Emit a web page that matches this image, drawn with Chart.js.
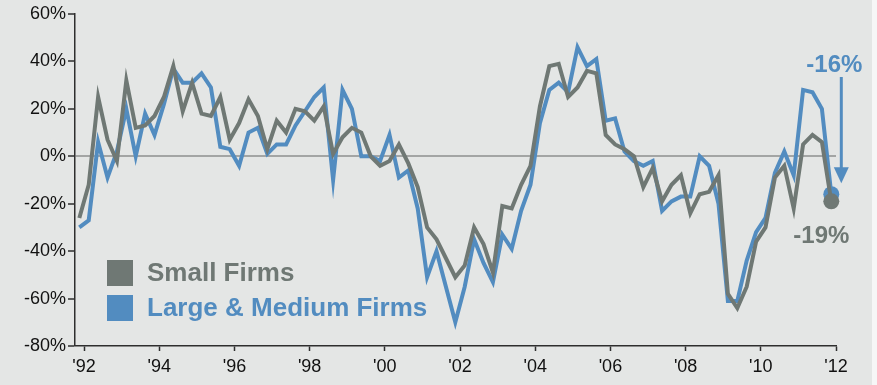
<!DOCTYPE html>
<html>
<head>
<meta charset="utf-8">
<script src="https://cdn.jsdelivr.net/npm/chart.js@4.4.1/dist/chart.umd.min.js"></script>
<style>
  html, body { margin: 0; padding: 0; background: #f6f6f6; }
  #wrap { position: relative; width: 877px; height: 385px; }
  #bg { position: absolute; left: 0; top: 0; width: 872px; height: 385px; background: #e4e6e5; }
  canvas { position: absolute; left: 0; top: 0; }
</style>
</head>
<body>
<div id="wrap">
  <div id="bg"></div>
  <canvas id="chart" width="877" height="385"></canvas>
</div>
<script>
// Quarterly readings, Q4 1991 through Q4 2011 (plotted at mid-quarter, in decimal years)
const quarters = Array.from({ length: 81 }, (_, i) => 1991.875 + i * 0.25);

// Net percent of firms reporting, by firm size
const smallFirms = [
  -26, -12, 25, 7, -2, 32, 12, 13, 17, 25, 38, 19, 31, 18, 17, 25,
  7, 14, 24, 17, 3, 15, 10, 20, 19, 15, 21, 1, 8, 12, 10, 0,
  -4, -2, 5, -3, -13, -30, -35, -43, -51, -46, -30, -37, -49, -21, -22, -12,
  -4, 21, 38, 39, 25, 29, 36, 35, 9, 5, 3, 0, -13, -5, -19, -12,
  -8, -24, -16, -15, -8, -58, -64, -55, -36, -30, -9, -4, -22, 5, 9, 6,
  -19
];
const largeMediumFirms = [
  -30, -27, 6, -9, 2, 20, 0, 18, 9, 22, 37, 31, 31, 35, 29, 4,
  3, -4, 10, 12, 1, 5, 5, 13, 19, 25, 29, -10, 28, 20, 0, 0,
  -2, 9, -9, -6, -22, -51, -40, -55, -70, -55, -35, -45, -53, -33, -39, -23,
  -12, 14, 28, 31, 27, 46, 38, 41, 15, 16, 2, -2, -4, -2, -23, -19,
  -17, -17, 0, -4, -20, -61, -61, -44, -32, -26, -7, 2, -8, 28, 27, 20,
  -16
];

// Axis ticks
const yTicks = [-80, -60, -40, -20, 0, 20, 40, 60];
const xTickYears = [1992, 1994, 1996, 1998, 2000, 2002, 2004, 2006, 2008, 2010, 2012];

const GRAY = '#6f7874';
const BLUE = '#528cc0';
const AXIS = '#2e2e2e';
const FONT = '"Liberation Sans", Arial, Helvetica, sans-serif';
const LAST = quarters.length - 1;

Chart.defaults.font.family = FONT;

const toPoints = values => quarters.map((q, i) => ({ x: q, y: values[i] }));

// Legend block and the call-outs for the latest readings
const callouts = {
  id: 'callouts',
  afterDatasetsDraw(chart) {
    const { ctx } = chart;
    const small = chart.getDatasetMeta(0).data[LAST];
    const large = chart.getDatasetMeta(1).data[LAST];
    ctx.save();

    // legend
    ctx.font = 'bold 26px ' + FONT;
    ctx.textAlign = 'left';
    ctx.textBaseline = 'alphabetic';
    ctx.fillStyle = GRAY;
    ctx.fillRect(107, 260, 26, 26);
    ctx.fillText('Small Firms', 147, 281);
    ctx.fillStyle = BLUE;
    ctx.fillRect(107, 295, 26, 26);
    ctx.fillText('Large & Medium Firms', 147, 316);

    // latest large & medium reading: label with arrow
    const ax = large.x + 10;
    ctx.strokeStyle = BLUE;
    ctx.lineWidth = 3;
    ctx.beginPath();
    ctx.moveTo(ax, 77);
    ctx.lineTo(ax, large.y - 24);
    ctx.stroke();
    ctx.fillStyle = BLUE;
    ctx.beginPath();
    ctx.moveTo(ax - 7.5, large.y - 27);
    ctx.lineTo(ax + 7.5, large.y - 27);
    ctx.lineTo(ax, large.y - 11);
    ctx.closePath();
    ctx.fill();

    ctx.font = 'bold 24px ' + FONT;
    ctx.textAlign = 'center';
    ctx.fillText(largeMediumFirms[LAST] + '%', large.x + 3, 72);

    // latest small-firm reading
    ctx.fillStyle = GRAY;
    ctx.fillText(smallFirms[LAST] + '%', small.x - 10, small.y + 42);

    ctx.restore();
  }
};

const lineStyle = color => ({
  borderColor: color,
  backgroundColor: color,
  pointBackgroundColor: color,
  borderWidth: 4,
  tension: 0,
  clip: false,
  pointBorderWidth: 0,
  pointRadius: c => (c.dataIndex === LAST ? 8 : 0),
  pointHoverRadius: 0
});

new Chart(document.getElementById('chart'), {
  type: 'line',
  data: {
    datasets: [
      Object.assign({ label: 'Small Firms', data: toPoints(smallFirms) }, lineStyle(GRAY)),
      Object.assign({ label: 'Large & Medium Firms', data: toPoints(largeMediumFirms) }, lineStyle(BLUE))
    ]
  },
  options: {
    responsive: false,
    animation: false,
    events: [],
    layout: { padding: { left: 0, right: 41, top: 14, bottom: 0 } },
    plugins: { legend: { display: false }, tooltip: { enabled: false } },
    scales: {
      x: {
        type: 'linear',
        min: 1991.76,
        max: 2012,
        afterBuildTicks: s => { s.ticks = xTickYears.map(v => ({ value: v })); },
        afterFit: s => { s.height = 39; },
        grid: { drawOnChartArea: false, tickLength: 5, tickColor: AXIS, tickWidth: 1.5 },
        border: { color: AXIS, width: 1.5 },
        ticks: {
          padding: 5,
          color: '#111',
          font: { size: 18 },
          maxRotation: 0,
          autoSkip: false,
          callback: v => "'" + String(v).slice(2)
        }
      },
      y: {
        min: -80,
        max: 60,
        afterBuildTicks: s => { s.ticks = yTicks.map(v => ({ value: v })); },
        afterFit: s => { s.width = 75; },
        grid: {
          color: c => (c.tick && c.tick.value === 0 ? '#a3a5a4' : 'rgba(0,0,0,0)'),
          lineWidth: c => (c.tick && c.tick.value === 0 ? 2 : 0),
          tickLength: 7,
          tickColor: AXIS,
          tickWidth: 1.5
        },
        border: { color: AXIS, width: 1.5 },
        ticks: {
          padding: 2,
          color: '#111',
          font: { size: 18 },
          callback: v => v + '%'
        }
      }
    }
  },
  plugins: [callouts]
});
</script>
</body>
</html>
